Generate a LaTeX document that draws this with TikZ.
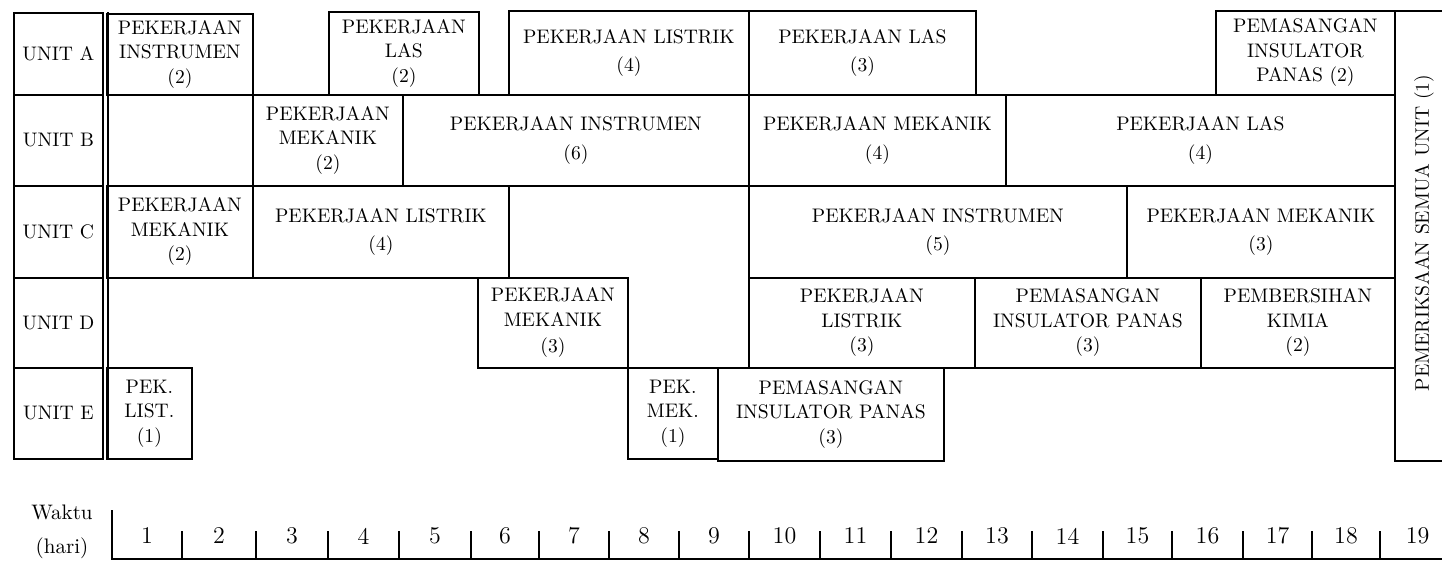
\documentclass[tikz,border=0pt]{standalone}
\usepackage{tikz}

\begin{document}
\begin{tikzpicture}[
    x=0.5pt, y=-0.5pt,
    % Boxes of the schedule, placed by their top left corner
    task/.style={
        draw=black,
        line width=0.9pt,
        align=center,
        inner sep=0pt,
        anchor=north west,
        font=\fontsize{9.8}{12.25}\selectfont
    },
    unitlabel/.style={task},
    daylabel/.style={font=\fontsize{12}{14}\selectfont},
    axisline/.style={draw=black, line width=0.9pt}
]
    \useasboundingbox (0,0) rectangle (1442,562);

    % Row labels: UNIT A ... UNIT E with their top and bottom edges
    \foreach \u/\ya/\yb in {A/12/94, B/94/185, C/185/277, D/277/367, E/367/458} {
        \node(unit-\u)[
            unitlabel,
            minimum width={89*0.5pt},
            minimum height={(\yb-\ya)*0.5pt}
        ] at (13,\ya) {UNIT \u};
    }

    % Second rule of the double line after the labels
    \draw[axisline] ([xshift=2pt]unit-A.north east) -- ([xshift=2pt]unit-E.south east);

    % Tasks: name / left / top / right / bottom / text
    \foreach \id/\xa/\ya/\xb/\yb/\txt in {
        a1/106/13/252/94/PEKERJAAN\\INSTRUMEN\\(2),
        a2/328/11/478/94/PEKERJAAN\\LAS\\(2),
        a3/508/10/748/94/PEKERJAAN LISTRIK\\[2pt](4),
        a4/748/10/975/94/PEKERJAAN LAS\\[2pt](3),
        a5/1215/10/1394/94/PEMASANGAN\\INSULATOR\\PANAS (2),
        b1/252/94/402/185/PEKERJAAN\\MEKANIK\\(2),
        b2/402/94/748/185/PEKERJAAN INSTRUMEN\\[2pt](6),
        b3/748/94/1005/185/PEKERJAAN MEKANIK\\[2pt](4),
        b4/1005/94/1394/185/PEKERJAAN LAS\\[2pt](4),
        c1/106/185/252/277/PEKERJAAN\\MEKANIK\\(2),
        c2/252/185/508/277/PEKERJAAN LISTRIK\\[2pt](4),
        c3/748/185/1126/277/PEKERJAAN INSTRUMEN\\[2pt](5),
        c4/1126/185/1394/277/PEKERJAAN MEKANIK\\[2pt](3),
        d1/477/277/627/367/PEKERJAAN\\MEKANIK\\[1pt](3),
        d2/748/277/974/367/PEKERJAAN\\LISTRIK\\(3),
        d3/974/277/1200/367/PEMASANGAN\\INSULATOR PANAS\\(3),
        d4/1200/277/1394/367/PEMBERSIHAN\\KIMIA\\(2),
        e1/106/367/191/458/PEK.\\LIST.\\(1),
        e2/627/367/717/458/PEK.\\MEK.\\(1),
        e3/717/367/943/460/PEMASANGAN\\INSULATOR PANAS\\(3)
    } {
        \node(task-\id)[
            task,
            minimum width={(\xb-\xa)*0.5pt},
            minimum height={(\yb-\ya)*0.5pt}
        ] at (\xa,\ya) {\txt};
    }

    % Final check of all units, open to the right edge
    \node(task-check)[task, minimum width={58*0.5pt}, minimum height={450*0.5pt}] at (1394,10) {};
    \node(check-text)[font=\fontsize{9.8}{12}\selectfont, rotate=90] at ([yshift=1.5pt]task-check.center)
        {PEMERIKSAAN SEMUA UNIT (1)};

    % --- TIME AXIS ---
    \node(waktu)[align=center, font=\fontsize{10.5}{13}\selectfont] at (62,532) {Waktu\\[4pt](hari)};
    \coordinate(axis-top) at (112,510);
    \coordinate(axis-start) at (112,559);
    \coordinate(axis-end) at (1442,559);
    \draw[axisline] (axis-top) -- (axis-start) -- (axis-end);

    % Day ticks and day numbers between them
    \foreach \x [count=\n, remember=\x as \lastx (initially 112)] in
        {182,256,328,399,471,539,609,679,749,820,891,962,1032,1103,1172,1243,1312,1380,1455} {
        \draw[axisline] (\x,531) -- (\x,559);
        \node(day-\n)[daylabel] at ({(\x+\lastx)/2},536) {\n};
    }
\end{tikzpicture}
\end{document}
